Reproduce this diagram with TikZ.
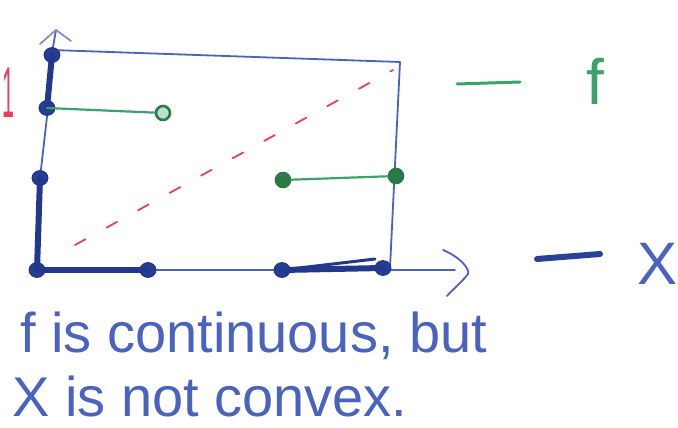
\documentclass[tikz,border=0pt]{standalone}
\usepackage{fontspec}
\setmainfont{Liberation Sans}
\definecolor{penblue}{HTML}{4A62C0}
\definecolor{navy}{HTML}{22388C}
\definecolor{pengreen}{HTML}{3AA36A}
\definecolor{darkgreen}{HTML}{2A7A45}
\definecolor{penred}{HTML}{E8405A}
\tikzset{
  thinline/.style={penblue, line width=1.8, line cap=round, line join=round},
  thickline/.style={navy, line width=6, line cap=round},
  greenline/.style={pengreen, line width=2.2, line cap=round},
  bdot/.style={ellipse, draw=navy, fill=navy!85!penblue, line width=1.8, minimum width=15, minimum height=14, inner sep=0},
  gdot/.style={circle, draw=darkgreen, fill=pengreen!35, line width=2.6, minimum size=14, inner sep=0},
  reddash/.style={penred, line width=1.8, dash pattern=on 12 off 24, line cap=round},
  hand/.style={text=penblue, inner sep=0, font=\fontsize{56}{60}\selectfont},
}
\usetikzlibrary{shapes.geometric}
\begin{document}
\begin{tikzpicture}[x=1pt,y=-1pt]
\useasboundingbox (0,0) rectangle (678,428);
% axis points
\coordinate (O) at (37,270);
\coordinate (ytip) at (56,30);
\coordinate (ywl) at (40,44);
\coordinate (ywr) at (71,41);
\coordinate (xend) at (455,270);
\coordinate (xa1) at (443,250);
\coordinate (xa2) at (468,274);
\coordinate (xa3) at (447,296);
\coordinate (tl) at (52,50);
\coordinate (tr) at (400,62);
\coordinate (br) at (390,268);
% red dashed diagonal
\coordinate (r1) at (75,245);
\coordinate (r2) at (393,70);
\draw[reddash] (r1) -- (r2);
% box
\draw[thinline] (tl) -- (tr) -- (br);
% axes
\draw[thinline] (O) -- (xend);
\draw[thinline] (xa1) .. controls (462,258) and (470,270) .. (xa2) .. controls (462,282) and (452,290) .. (xa3);
\draw[thinline] (O) -- (40,178) -- (48,108) -- (52,53) -- (ytip);
\draw[thinline, penblue!70] (ywl) -- (ytip) -- (ywr);
% dots
\node[bdot] (y1) at (52,55) {};
\node[bdot] (y2) at (47,108) {};
\node[bdot] (y3) at (40,178) {};
\node[bdot] (o) at (37,270) {};
\node[bdot] (x1) at (148,270) {};
\node[bdot] (x2) at (282,270) {};
\node[bdot] (x3) at (383,268) {};
% thick parts of X
\draw[thickline] (y1.center) -- (y2.center);
\draw[thickline] (y3.center) -- (o.center);
\draw[thickline] (o.center) -- (x1.center);
\draw[thickline] (x2.center) -- (x3.center);
\draw[navy, line width=3, line cap=round] (x2.center) -- (375,259);
% green function
\node[gdot] (g1) at (163,113) {};
\node[gdot, fill=darkgreen] (g2) at (283,180) {};
\node[gdot, fill=darkgreen] (g3) at (396,176) {};
\draw[greenline] (y2.center) -- (g1);
\draw[greenline] (g2) -- (g3);
% red 1
\node[text=penred, font=\fontsize{72}{72}\selectfont, inner sep=0, xscale=0.3] (one) at (9,93) {1};
% legend
\coordinate (lf1) at (457,84);
\coordinate (lf2) at (520,82);
\draw[pengreen, line width=3, line cap=round] (lf1) -- (lf2);
\node[text=pengreen, font=\fontsize{64}{64}\selectfont, inner sep=0, anchor=base] (lf) at (595,104) {f};
\coordinate (lx1) at (537,259);
\coordinate (lx2) at (600,254);
\draw[navy!80!penblue, line width=6, line cap=round] (lx1) -- (lx2);
\node[text=penblue, font=\fontsize{60}{60}\selectfont, inner sep=0, anchor=base] (lX) at (658,284) {X};
% caption
\node[hand, anchor=base west] (line1) at (20,352) {f is continuous, but};
\node[hand, anchor=base west] (line2) at (12,416) {X is not convex.};
\end{tikzpicture}
\end{document}
